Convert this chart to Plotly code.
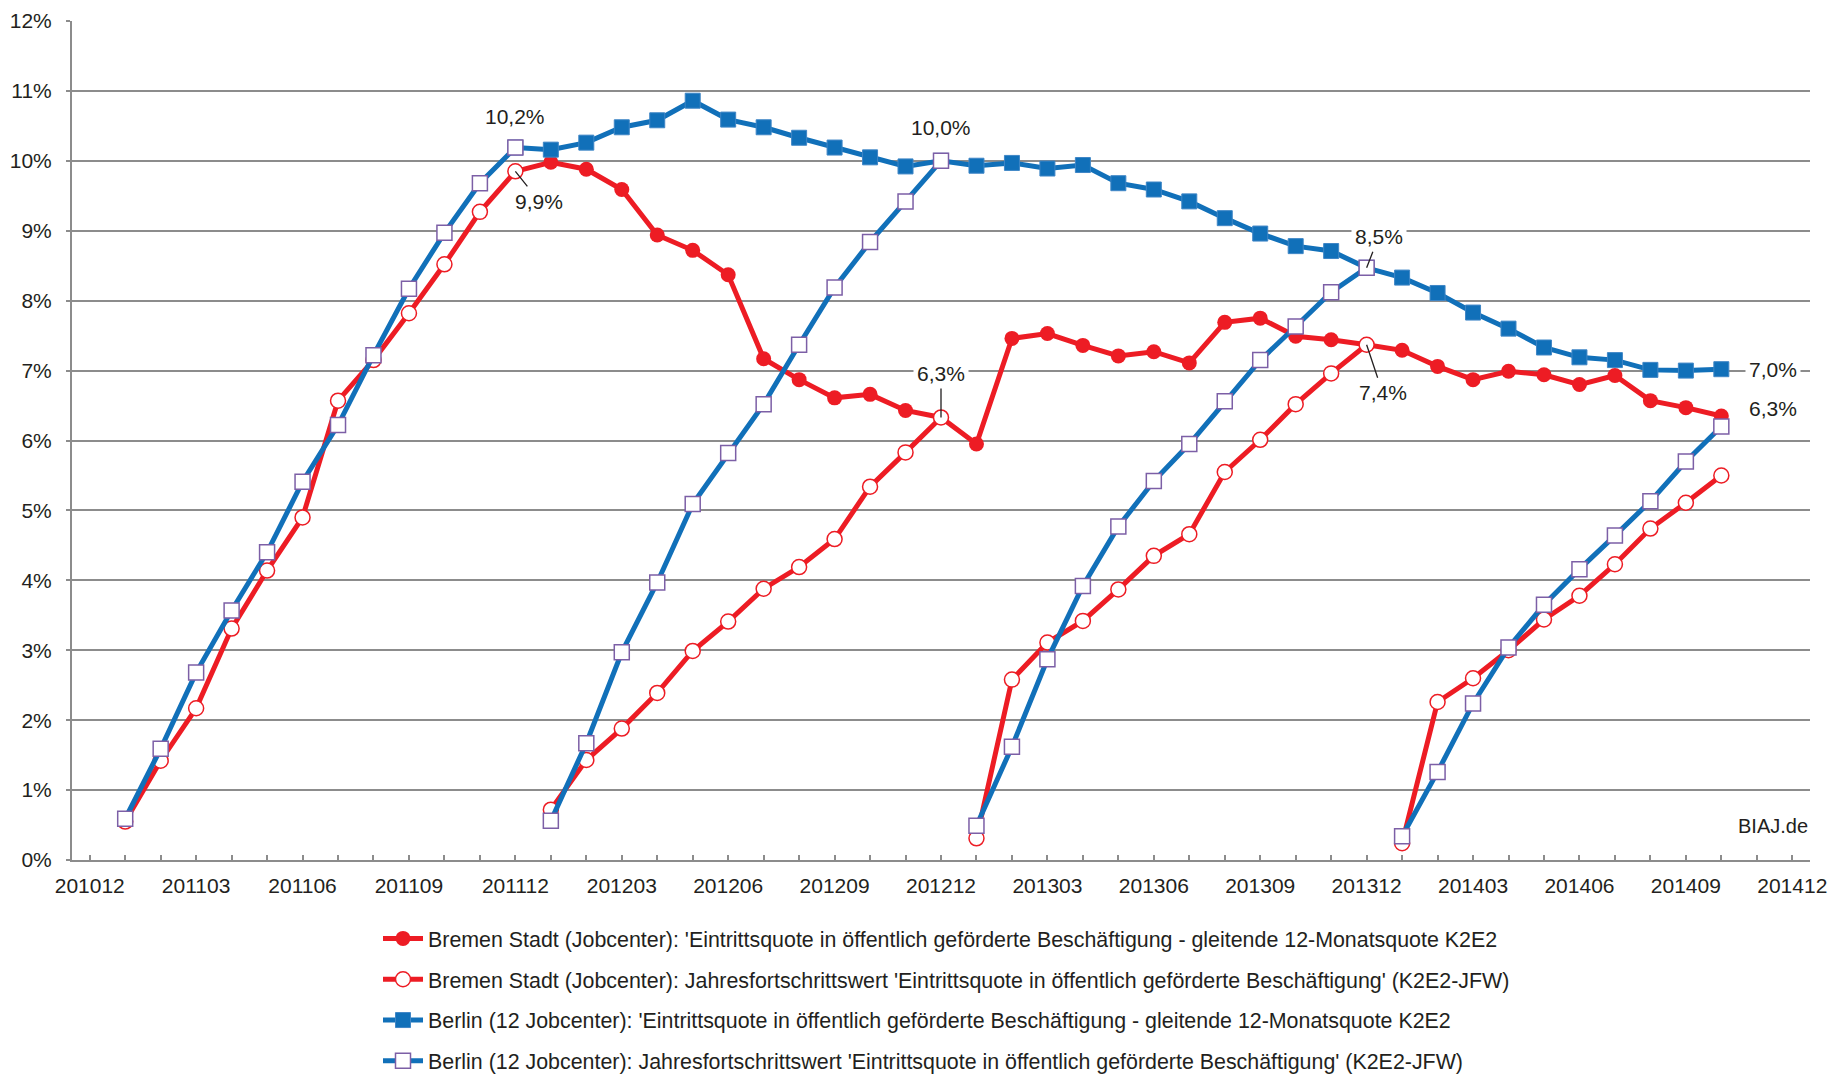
import plotly.graph_objects as go

# ---------------- data ----------------
months = [f"{y}{m:02d}" for y in range(2010, 2015) for m in range(1, 13)][11:]  # 201012 .. 201412
tick_labels = ["201012", "201103", "201106", "201109", "201112", "201203", "201206",
               "201209", "201212", "201303", "201306", "201309", "201312", "201403",
               "201406", "201409", "201412"]
y_ticks = [0, 1, 2, 3, 4, 5, 6, 7, 8, 9, 10, 11, 12]

# gleitende 12-Monatsquote, from 201112 to 201410
rolling_start = "201112"
bremen_12m = [9.85, 9.98, 9.88, 9.59, 8.94, 8.72, 8.37, 7.17, 6.87, 6.61, 6.66, 6.43, 6.33,
              5.95, 7.46, 7.53, 7.36, 7.21, 7.27, 7.11, 7.69, 7.75, 7.49, 7.44, 7.37,
              7.29, 7.06, 6.87, 6.99, 6.94, 6.80, 6.93, 6.57, 6.47, 6.35]
berlin_12m = [10.19, 10.16, 10.26, 10.48, 10.58, 10.86, 10.59, 10.48, 10.33, 10.19, 10.05, 9.92, 10.00,
              9.93, 9.97, 9.89, 9.94, 9.68, 9.59, 9.42, 9.18, 8.96, 8.78, 8.71, 8.47,
              8.33, 8.11, 7.83, 7.60, 7.33, 7.19, 7.15, 7.01, 7.00, 7.02]

# Jahresfortschrittswerte, one list per year (January start)
jfw_year_starts = ["201101", "201201", "201301", "201401"]
bremen_jfw_2011 = [0.55, 1.42, 2.17, 3.31, 4.14, 4.90, 6.57, 7.15, 7.82, 8.52, 9.27, 9.85]
bremen_jfw_2012 = [0.72, 1.43, 1.88, 2.39, 2.99, 3.41, 3.88, 4.19, 4.59, 5.34, 5.83, 6.33]
bremen_jfw_2013 = [0.31, 2.58, 3.11, 3.42, 3.87, 4.35, 4.66, 5.55, 6.01, 6.52, 6.96, 7.37]
bremen_jfw_2014 = [0.24, 2.26, 2.60, 3.00, 3.44, 3.78, 4.23, 4.74, 5.11, 5.50]
berlin_jfw_2011 = [0.59, 1.59, 2.68, 3.57, 4.40, 5.41, 6.22, 7.22, 8.17, 8.97, 9.68, 10.19]
berlin_jfw_2012 = [0.56, 1.67, 2.97, 3.97, 5.09, 5.82, 6.52, 7.37, 8.19, 8.84, 9.42, 10.00]
berlin_jfw_2013 = [0.49, 1.62, 2.87, 3.92, 4.77, 5.42, 5.95, 6.56, 7.15, 7.63, 8.12, 8.47]
berlin_jfw_2014 = [0.34, 1.26, 2.24, 3.04, 3.65, 4.16, 4.64, 5.13, 5.70, 6.20]

names = [
    "Bremen Stadt (Jobcenter): 'Eintrittsquote in öffentlich geförderte Beschäftigung - gleitende 12-Monatsquote K2E2",
    "Bremen Stadt (Jobcenter): Jahresfortschrittswert 'Eintrittsquote in öffentlich geförderte Beschäftigung' (K2E2-JFW)",
    "Berlin (12 Jobcenter): 'Eintrittsquote in öffentlich geförderte Beschäftigung - gleitende 12-Monatsquote K2E2",
    "Berlin (12 Jobcenter): Jahresfortschrittswert 'Eintrittsquote in öffentlich geförderte Beschäftigung' (K2E2-JFW)",
]

# labels: (month, value, text, ax, ay, showarrow, background)
labels = [
    ("201112", 10.19, "10,2%", 0, -31, False, False),
    ("201112", 9.85, "9,9%", 24, 30, True, False),
    ("201212", 10.00, "10,0%", 0, -33, False, False),
    ("201212", 6.33, "6,3%", 0, -44, True, True),
    ("201312", 8.47, "8,5%", 12, -31, True, True),
    ("201312", 7.37, "7,4%", 16, 48, True, False),
    ("201410", 7.02, "7,0%", 52, 0, False, True),
    ("201410", 6.35, "6,3%", 52, -8, False, False),
]

# ---------------- styling ----------------
RED = "#ED1C24"
BLUE = "#1170B9"
PURPLE = "#7C5FA6"
GRID = "#8C8C8C"
TXT = "#231F20"
FONT = "Liberation Sans, Arial, sans-serif"


def xi(label):
    return months.index(label)


def join_years(starts, lists):
    xs, ys = [], []
    for s, vals in zip(starts, lists):
        if xs:
            xs.append(None)
            ys.append(None)
        x0 = xi(s)
        xs.extend(range(x0, x0 + len(vals)))
        ys.extend(vals)
    return xs, ys


fig = go.Figure()

x_roll = list(range(xi(rolling_start), xi(rolling_start) + len(bremen_12m)))
fig.add_trace(go.Scatter(
    x=x_roll, y=bremen_12m, name=names[0], mode="lines+markers", legendgroup="a",
    line=dict(color=RED, width=5),
    marker=dict(symbol="circle", size=15, color=RED, line=dict(width=0))))

bx, by = join_years(jfw_year_starts, [bremen_jfw_2011, bremen_jfw_2012, bremen_jfw_2013, bremen_jfw_2014])
fig.add_trace(go.Scatter(
    x=bx, y=by, name=names[1], mode="lines+markers", legendgroup="b", connectgaps=False,
    line=dict(color=RED, width=5),
    marker=dict(symbol="circle", size=15, color="white", line=dict(color=RED, width=1.5))))

fig.add_trace(go.Scatter(
    x=x_roll, y=berlin_12m, name=names[2], mode="lines+markers", legendgroup="c",
    line=dict(color=BLUE, width=5),
    marker=dict(symbol="square", size=15, color=BLUE, line=dict(color="#3F86C6", width=1))))

gx, gy = join_years(jfw_year_starts, [berlin_jfw_2011, berlin_jfw_2012, berlin_jfw_2013, berlin_jfw_2014])
fig.add_trace(go.Scatter(
    x=gx, y=gy, name=names[3], mode="lines+markers", legendgroup="d", connectgaps=False,
    line=dict(color=BLUE, width=5),
    marker=dict(symbol="square", size=15, color="white", line=dict(color=PURPLE, width=1.5))))

for m, v, t, ax, ay, arrow, bg in labels:
    if arrow:
        fig.add_annotation(x=xi(m), y=v, text=t, showarrow=True, ax=ax, ay=ay,
                           arrowhead=0, arrowwidth=1.3, arrowcolor=TXT, standoff=0,
                           bgcolor="white" if bg else None, borderpad=3,
                           font=dict(size=21, color=TXT, family=FONT))
    else:
        fig.add_annotation(x=xi(m), y=v, text=t, showarrow=False, xshift=ax, yshift=-ay,
                           bgcolor="white" if bg else None, borderpad=3,
                           font=dict(size=21, color=TXT, family=FONT))

fig.add_annotation(xref="paper", yref="paper", x=1.0, y=0.04, xanchor="right", yanchor="middle",
                   text="BIAJ.de", showarrow=False, font=dict(size=20, color=TXT, family=FONT))

fig.update_layout(
    width=1832, height=1074,
    margin=dict(l=72, r=22, t=21, b=214, autoexpand=False),
    paper_bgcolor="white", plot_bgcolor="white",
    font=dict(family=FONT, size=21, color=TXT),
    showlegend=True,
    legend=dict(x=378 / 1832, xref="container", y=1 - 918 / 1074, yref="container",
                xanchor="left", yanchor="top", orientation="v",
                font=dict(size=21.4, color=TXT, family=FONT), tracegroupgap=10,
                bgcolor="rgba(0,0,0,0)", itemwidth=40),
    xaxis=dict(range=[-0.5, 48.5], tickmode="array", automargin=False,
               tickvals=[xi(l) for l in tick_labels], ticktext=tick_labels,
               ticks="inside", ticklen=5, tickwidth=1.5, tickcolor=GRID,
               minor=dict(ticks="inside", dtick=1, tick0=0, ticklen=5, tickwidth=1.5, tickcolor=GRID),
               showline=True, linecolor=GRID, linewidth=2, showgrid=False, zeroline=False,
               tickfont=dict(size=21, color=TXT, family=FONT), ticklabelstandoff=6),
    yaxis=dict(range=[0, 12], tickmode="array", tickvals=y_ticks, automargin=False,
               ticktext=[f"{v}%" for v in y_ticks],
               ticks="outside", ticklen=4, tickwidth=1.5, tickcolor=GRID,
               showline=True, linecolor=GRID, linewidth=2,
               showgrid=True, gridcolor=GRID, gridwidth=2, zeroline=False,
               tickfont=dict(size=21, color=TXT, family=FONT), ticklabelstandoff=10),
)

fig.write_html("out.html", config={"displayModeBar": False},
               post_script="document.body.style.margin='0';document.body.style.overflow='hidden';")
